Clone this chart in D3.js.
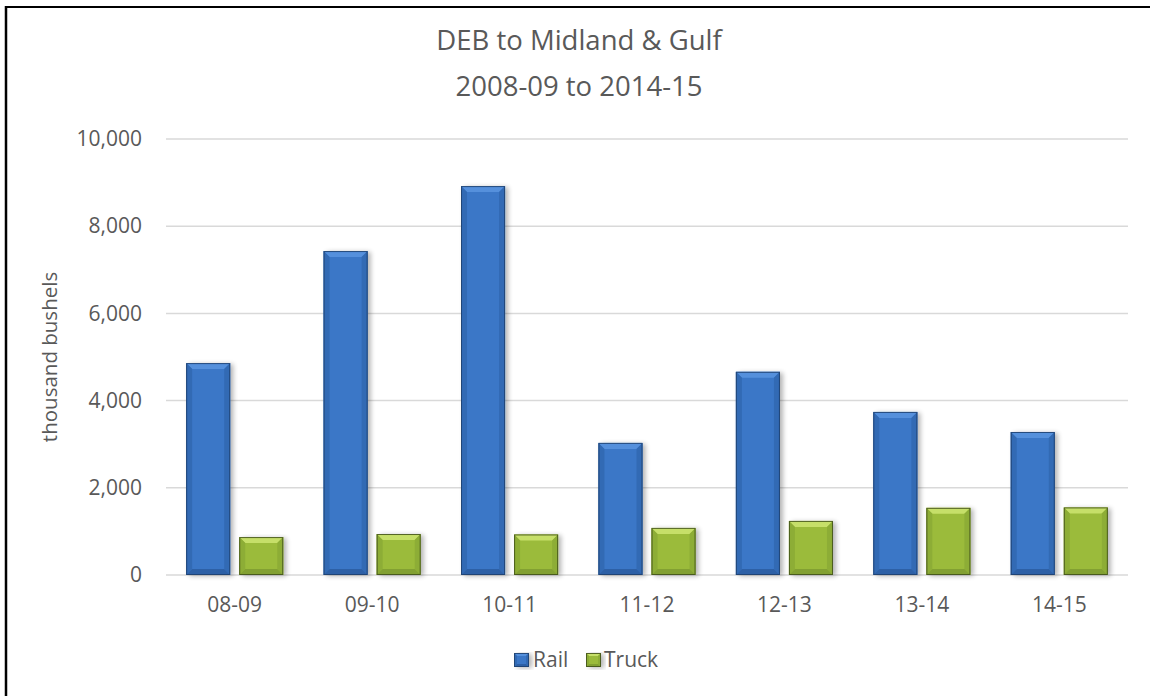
<!DOCTYPE html>
<html>
<head>
<meta charset="utf-8">
<script src="https://cdn.jsdelivr.net/npm/d3@7"></script>
<style>
  html, body { margin: 0; padding: 0; background: #fff; }
  svg { display: block; }
  text { font-family: "Open Sans", "Noto Sans", sans-serif; fill: #595959; }
</style>
</head>
<body>
<svg id="chart" width="1155" height="696"></svg>
<script>
// Marketing years and shipped volume (thousand bushels)
const categories = ["08-09", "09-10", "10-11", "11-12", "12-13", "13-14", "14-15"];
const railValues = [4860, 7430, 8920, 3030, 4660, 3740, 3280];
const truckValues = [870, 940, 930, 1080, 1240, 1540, 1550];
const yTicks = [0, 2000, 4000, 6000, 8000, 10000];
const seriesNames = ["Rail", "Truck"];

const palette = {
  Rail:  { base: "#3a77c7", light: "#5590dc", dark: "#2d60a6", side: "#326ab4", edge: "#1f3f6c" },
  Truck: { base: "#9bbb3b", light: "#c6df69", dark: "#82a032", side: "#8dad36", edge: "#3f4f1a" }
};

const svg = d3.select("#chart");
const margin = { left: 166, right: 1128, top: 139, bottom: 575 };

// frame lines (top and left)
svg.append("line").attr("x1", 5).attr("x2", 1150).attr("y1", 7).attr("y2", 7)
  .attr("stroke", "#000").attr("stroke-width", 2);
svg.append("line").attr("x1", 6).attr("x2", 6).attr("y1", 6).attr("y2", 696)
  .attr("stroke", "#000").attr("stroke-width", 2.5);

const x = d3.scaleBand().domain(categories).range([margin.left, margin.right]).padding(0);
const y = d3.scaleLinear().domain([0, 10000]).range([margin.bottom, margin.top]);

const inner = d3.scaleBand().domain(seriesNames)
  .range([0, x.bandwidth()]).paddingInner(0.17).paddingOuter(0.38);

// gridlines
svg.append("g").selectAll("line").data(yTicks).join("line")
  .attr("x1", margin.left).attr("x2", margin.right)
  .attr("y1", d => y(d)).attr("y2", d => y(d))
  .attr("stroke", "#d9d9d9").attr("stroke-width", 1.5);

// y axis labels
const yAxis = d3.axisLeft(y).tickValues(yTicks).tickSize(0).tickPadding(0)
  .tickFormat(d3.format(","));
const yg = svg.append("g").attr("transform", `translate(${margin.left - 24},0)`).call(yAxis);
yg.select(".domain").remove();
yg.selectAll("text").style("font-size", "21px").attr("fill", "#595959")
  .style("font-family", "'Open Sans', sans-serif");

// x axis labels
const xAxis = d3.axisBottom(x).tickSize(0).tickPadding(0);
const xg = svg.append("g").attr("transform", `translate(0,${margin.bottom + 22})`).call(xAxis);
xg.select(".domain").remove();
xg.selectAll("text").style("font-size", "21px").attr("fill", "#595959")
  .style("font-family", "'Open Sans', sans-serif");

// drop shadow for bars
const defs = svg.append("defs");
const f = defs.append("filter").attr("id", "shadow").attr("x", "-20%").attr("y", "-10%")
  .attr("width", "150%").attr("height", "130%");
f.append("feGaussianBlur").attr("in", "SourceAlpha").attr("stdDeviation", 2.5);
f.append("feOffset").attr("dx", 3).attr("dy", 1).attr("result", "b");
f.append("feComponentTransfer").append("feFuncA").attr("type", "linear").attr("slope", 0.3);
const fm = f.append("feMerge");
fm.append("feMergeNode");
fm.append("feMergeNode").attr("in", "SourceGraphic");

function bevelBar(g, x0, y0, w, h, c, bev) {
  const x1 = x0 + w, y1 = y0 + h;
  const b = Math.min(bev, h / 2, w / 2);
  g.append("rect").attr("x", x0).attr("y", y0).attr("width", w).attr("height", h)
    .attr("fill", c.base).attr("filter", "url(#shadow)");
  // top bevel
  g.append("polygon").attr("points", [[x0, y0], [x1, y0], [x1 - b, y0 + b], [x0 + b, y0 + b]].join(" "))
    .attr("fill", c.light);
  // side bevels
  g.append("polygon").attr("points", [[x0, y0], [x0 + b, y0 + b], [x0 + b, y1 - b], [x0, y1]].join(" "))
    .attr("fill", c.side);
  g.append("polygon").attr("points", [[x1, y0], [x1 - b, y0 + b], [x1 - b, y1 - b], [x1, y1]].join(" "))
    .attr("fill", c.side);
  // bottom bevel
  g.append("polygon").attr("points", [[x0, y1], [x0 + b, y1 - b], [x1 - b, y1 - b], [x1, y1]].join(" "))
    .attr("fill", c.dark);
  g.append("rect").attr("x", x0 + 0.5).attr("y", y0 + 0.5).attr("width", w - 1).attr("height", h - 1)
    .attr("fill", "none").attr("stroke", c.edge).attr("stroke-width", 1).attr("stroke-opacity", 0.85);
}

const series = [
  { name: "Rail", values: railValues },
  { name: "Truck", values: truckValues }
];

const barsG = svg.append("g");
series.forEach(s => {
  s.values.forEach((v, i) => {
    const bx = x(categories[i]) + inner(s.name);
    const by = y(v);
    const h = y(0) - by;
    bevelBar(barsG, bx, by, inner.bandwidth(), h, palette[s.name], 6);
  });
});

// title
svg.append("text").attr("x", 579).attr("y", 50).attr("text-anchor", "middle")
  .style("font-size", "27.5px").text("DEB to Midland & Gulf");
svg.append("text").attr("x", 579).attr("y", 96).attr("text-anchor", "middle")
  .style("font-size", "27.5px").text("2008-09 to 2014-15");

// y axis title
svg.append("text").attr("transform", "translate(57,357) rotate(-90)")
  .attr("text-anchor", "middle").style("font-size", "20.5px").text("thousand bushels");

// legend
const legend = svg.append("g");
const legendItems = [
  { name: "Rail", x: 514, tx: 533 },
  { name: "Truck", x: 586, tx: 604 }
];
legendItems.forEach(li => {
  const g = legend.append("g");
  bevelBar(g, li.x, 653, 15, 14, palette[li.name], 3);
  g.append("text").attr("x", li.tx).attr("y", 667).style("font-size", "21px").text(li.name);
});
</script>
</body>
</html>
